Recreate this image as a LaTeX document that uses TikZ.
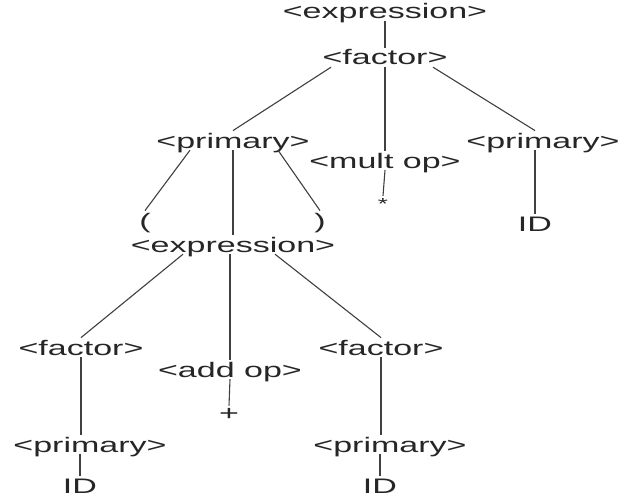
\documentclass[tikz,border=0pt]{standalone}
\usepackage{fontspec}
\setmainfont[FakeStretch=1.62]{Liberation Sans}
\begin{document}
\begin{tikzpicture}[x=1pt,y=-1pt,line join=bevel,
  sym/.style={anchor=base,inner sep=2pt,text depth=0pt,font=\fontsize{21}{25}\selectfont,text=black!85},
  br/.style={draw=black!75,line width=1.1pt}]
%%
  \useasboundingbox [fill=white] (0,0) rectangle (626,500);
%% upper part
  \node (node_0) at (385,19) [sym] {<expression>};
  \node (node_1) at (385,65) [sym] {<factor>};
  \node (node_2) at (233,148) [sym] {<primary>};
  \node (node_3) at (385,168) [sym] {<mult op>};
  \node (node_4) at (543,148) [sym] {<primary>};
  \node (node_5) at (145,228) [sym] {(};
  \node (node_6) at (320,228) [sym] {)};
  \node (node_7) at (383,209) [sym,font=\fontsize{16}{18}\selectfont] {*};
  \node (node_8) at (535,231) [sym] {ID};
%% lower part
  \node (node_9) at (233,252) [sym] {<expression>};
  \node (node_10) at (81,355) [sym] {<factor>};
  \node (node_11) at (230,377) [sym] {<add op>};
  \node (node_12) at (381,355) [sym] {<factor>};
  \node (node_13) at (229,420) [sym] {+};
  \node (node_14) at (90,452) [sym] {<primary>};
  \node (node_15) at (390,452) [sym] {<primary>};
  \node (node_16) at (80,493) [sym] {ID};
  \node (node_17) at (380,493) [sym] {ID};

  \draw [br] (node_0.south) -- (node_1.north);
  \draw [br] ([xshift=-54pt]node_1.south) -- (node_2.north);
  \draw [br] (node_1.south) -- (node_3.north);
  \draw [br] ([xshift=48pt]node_1.south) -- ([xshift=-8pt]node_4.north);
  \draw [br] (node_3.south) -- (node_7.north);
  \draw [br] (node_4.south -| node_8.north) -- (node_8.north);
  \draw [br] ([xshift=-43pt]node_2.south) -- (node_5.north);
  \draw [br] (node_2.south) -- (node_9.north);
  \draw [br] ([xshift=45pt]node_2.south) -- (node_6.north);
%
  \draw [br] ([xshift=-50pt]node_9.south) -- (node_10.north);
  \draw [br] (node_9.south -| node_11.north) -- (node_11.north);
  \draw [br] ([xshift=42pt]node_9.south) -- (node_12.north);
  \draw [br] (node_11.south) -- (node_13.north);
  \draw [br] (node_10.south) -- (node_10.south |- node_14.north);
  \draw [br] (node_14.south -| node_16.north) -- (node_16.north);
  \draw [br] (node_12.south) -- (node_12.south |- node_15.north);
  \draw [br] (node_15.south -| node_17.north) -- (node_17.north);
%
\end{tikzpicture}
\end{document}
